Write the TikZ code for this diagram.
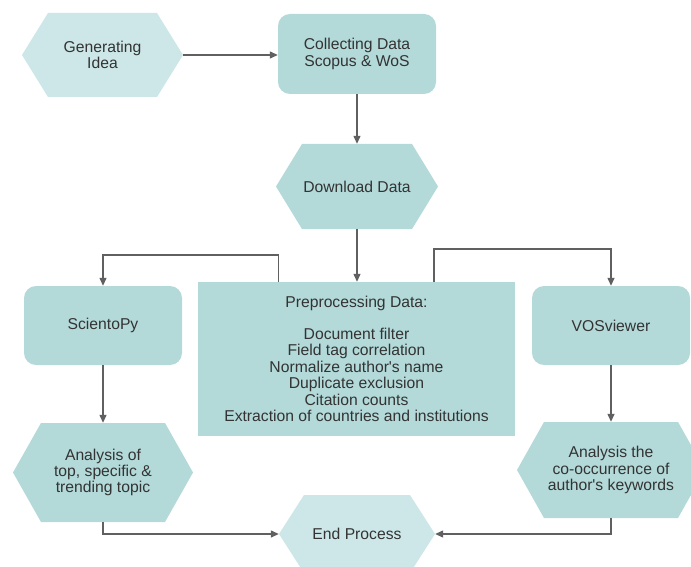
\documentclass[tikz,border=0pt]{standalone}
\usepackage{fontspec}
\setmainfont{Liberation Sans}
\usetikzlibrary{arrows.meta}
\definecolor{mainfill}{HTML}{B3D9D9}
\definecolor{lightfill}{HTML}{CDE7E8}
\definecolor{txt}{HTML}{333333}
\definecolor{linec}{HTML}{606060}
\tikzset{
  lbl/.style={inner sep=0pt, draw=none, align=center, text=txt,
    font=\fontsize{15.7}{16.4}\selectfont},
  roundbox/.style={lbl, fill=mainfill, rounded corners=12pt},
  sqbox/.style={lbl, fill=mainfill},
  conn/.style={draw=linec, line width=1.3pt,
    -{Triangle[length=8pt,width=7pt]}},
}
\begin{document}
\begin{tikzpicture}[x=1pt,y=-1pt]
\useasboundingbox (0,0) rectangle (691,567);
\clip (0,0) rectangle (691,567);
\fill[white] (0,0) rectangle (691,567);
% hexagon fills
\fill[lightfill] (22,55) -- (48,13) -- (157,13) -- (183,55) -- (157,97) -- (48,97) -- cycle;
\fill[mainfill] (276,186.5) -- (302,144) -- (412,144) -- (438,186.5) -- (412,229) -- (302,229) -- cycle;
\fill[mainfill] (13,472.5) -- (41,423) -- (165,423) -- (193,472.5) -- (165,522) -- (41,522) -- cycle;
\fill[mainfill] (517,470) -- (544,422) -- (678,422) -- (705,470) -- (678,518) -- (544,518) -- cycle;
\fill[lightfill] (279,534) -- (304,495) -- (410,495) -- (435,534) -- (410,573) -- (304,573) -- cycle;
% nodes
\node[lbl, minimum width=161pt, minimum height=84pt] (gen) at (102.5,55) {Generating\\Idea};
\node[roundbox, minimum width=158pt, minimum height=80pt] (col) at (357,54) {Collecting Data\\Scopus \& WoS};
\node[lbl, minimum width=162pt, minimum height=85pt] (dl) at (357,186.5) {Download Data};
\node[sqbox, minimum width=317pt, minimum height=154pt] (pre) at (356.5,359)
  {Preprocessing Data:\\[15.2pt] Document filter\\ Field tag correlation\\ Normalize author\textquotesingle s name\\ Duplicate exclusion\\ Citation counts\\ Extraction of countries and institutions};
\node[roundbox, minimum width=158pt, minimum height=79pt] (sci) at (103,325.5) {ScientoPy};
\node[roundbox, minimum width=158pt, minimum height=79pt] (vos) at (611,325.5) {VOSviewer};
\node[lbl, minimum width=180pt, minimum height=99pt] (la) at (103,472.5) {Analysis of\\top, specific \&\\trending topic};
\node[lbl, minimum width=188pt, minimum height=96pt] (ra) at (611,470) {Analysis the\\co-occurrence of\\author\textquotesingle s keywords};
\node[lbl, minimum width=156pt, minimum height=78pt] (endp) at (357,534) {End Process};
\coordinate (pl) at (278.5,282);
\coordinate (pr) at (434,282);
% connectors
\draw[conn] (gen.east) -- (col.west |- gen.east);
\draw[conn] (col.south) -- (dl.north);
\draw[conn] (dl.south) -- (pre.north -| dl.south);
\draw[conn] (pl) -- ++(0,-27) -| (sci.north);
\draw[conn] (pr) -- ++(0,-33) -| (vos.north);
\draw[conn] (sci.south) -- (la.north);
\draw[conn] (vos.south) -- (ra.north);
\draw[conn] (la.south) |- (endp.west);
\draw[conn] (ra.south) |- (endp.east);
\end{tikzpicture}
\end{document}
